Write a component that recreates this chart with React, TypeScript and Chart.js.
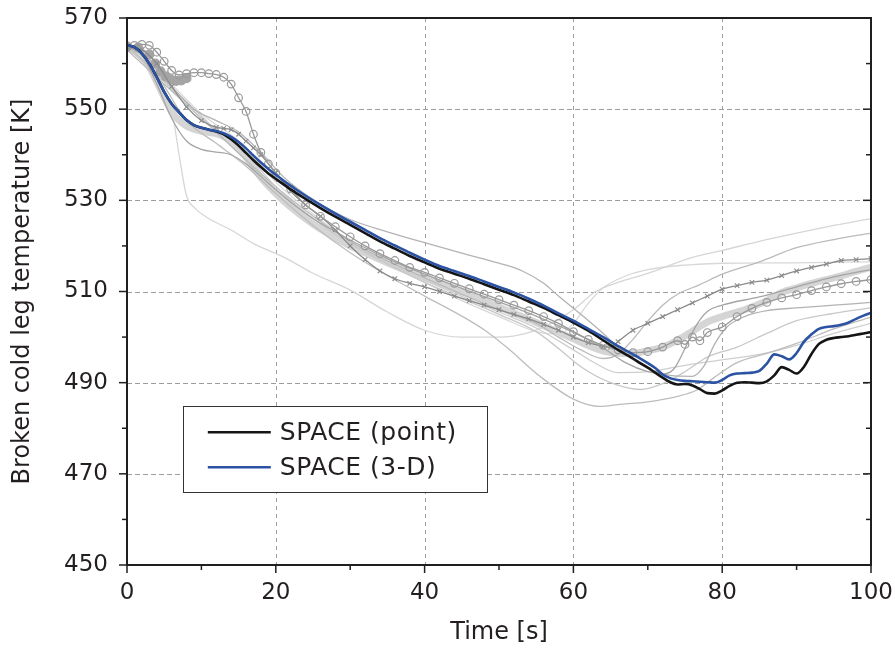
import React, { useEffect, useRef } from "react";
import { Chart, registerables } from "chart.js";

Chart.register(...registerables);

// ---------- ticks ----------
const xTicks = [0, 20, 40, 60, 80, 100];
const xMinorTicks = [10, 30, 50, 70, 90];
const yTicks = [450, 470, 490, 510, 530, 550, 570];
const yMinorTicks = [460, 480, 500, 520, 540, 560];

// ---------- main series (SPACE) ----------
const tMain = [
  0, 1, 2, 3, 4, 5, 6, 7, 8, 9, 10, 11, 12, 13, 14, 15, 16, 17, 18, 19, 20,
  22, 24, 26, 28, 30, 32, 34, 36, 38, 40, 42, 44, 46, 48, 50, 52, 54, 56, 58, 60, 62, 64, 66, 68,
  69, 70, 71, 72, 73, 74, 75, 76, 77, 78, 79, 80, 81, 82, 83, 84, 85, 86, 87, 88, 89, 90,
  91, 92, 93, 94, 95, 96, 97, 98, 99, 100,
];
const spacePoint = [
  564, 563.6, 562.2, 560, 557, 553.8, 551.2, 549.3, 547.6, 546.5, 545.9, 545.5, 545.1, 544.5, 543.4, 542, 540.4, 538.8, 537.3, 535.9, 534.7,
  532.4, 530.3, 528.3, 526.4, 524.6, 522.8, 521, 519.4, 517.8, 516.4, 515, 513.9, 512.8, 511.6, 510.4, 509.2, 507.8, 506.4, 504.8, 503.2, 501.4, 499.3, 497.2, 495.3,
  494.3, 493.3, 492.2, 491.1, 490.1, 489.6, 489.7, 489.4, 488.6, 487.7, 487.6, 488.3, 489.3, 490, 490.1, 490, 489.9, 490.3, 491.6, 493.4, 492.8, 492,
  493.5, 496.3, 498.5, 499.4, 499.8, 500, 500.2, 500.5, 500.8, 501.1,
];
const space3D = [
  564, 563.6, 562.2, 560, 557, 553.8, 551.2, 549.3, 547.6, 546.5, 545.9, 545.5, 545.2, 544.7, 543.9, 542.8, 541.4, 539.8, 538.3, 536.9, 535.6,
  533.2, 531, 529, 527.1, 525.3, 523.5, 521.7, 520.1, 518.5, 517, 515.6, 514.5, 513.4, 512.2, 511, 509.8, 508.4, 506.9, 505.2, 503.6, 501.8, 500, 498, 496.2,
  495.3, 494.3, 493.2, 491.8, 491, 490.6, 490.4, 490.3, 490.2, 490.1, 490, 490.6, 491.6, 492, 492.1, 492.2, 492.6, 494.2, 496.2, 495.8, 495.1, 496.5,
  499, 500.6, 501.8, 502.2, 502.4, 502.7, 503.2, 504, 504.7, 505.3,
];

// ---------- other participants (grey) : [time, temperature] ----------
const grayCircles = [
  [0, 563.5], [1, 564], [2, 564.2], [3, 564], [4, 562.5], [5, 560.5], [6, 558.5], [7, 557.5], [8, 557.8], [9, 558],
  [10, 558], [11, 557.8], [12, 557.6], [13, 557], [14, 555.5], [15, 552.5], [16, 549.5], [17, 544.5], [18, 540.5], [19, 538],
  [20, 536], [22, 532.5], [24, 529], [26, 526.5], [28, 524.2], [30, 522], [32, 520], [34, 518.3], [36, 516.8], [38, 515.3],
  [40, 514.2], [42, 513], [44, 511.8], [46, 510.6], [48, 509.4], [50, 508.2], [52, 507], [54, 505.8], [56, 504.5], [58, 503],
  [60, 501.2], [62, 499.5], [64, 498.2], [66, 497.2], [68, 496.6], [70, 496.8], [72, 497.8], [74, 499.2], [75, 498.4], [76, 500],
  [77, 499.2], [78, 501], [80, 502.2], [82, 504.5], [84, 506.3], [86, 507.6], [88, 508.6], [90, 509.3], [92, 510.2], [94, 511],
  [96, 511.7], [98, 512.2], [100, 512.6],
];
const grayCrosses = [
  [0, 563.5], [2, 563], [4, 560], [6, 555], [8, 550.5], [10, 547.5], [12, 546], [13, 545.8], [14, 545.5], [15, 544.5],
  [16, 543], [17, 541.5], [18, 540], [20, 536], [22, 532], [24, 529], [26, 526.5], [28, 523.5], [30, 520], [32, 517],
  [34, 514.5], [36, 512.8], [38, 511.8], [40, 511], [42, 510], [44, 509], [46, 508], [48, 507], [50, 506], [52, 505],
  [54, 504], [56, 502.8], [58, 501.5], [60, 500], [62, 498.8], [64, 498], [65, 497.8], [66, 499], [68, 501.5], [70, 503],
  [72, 504.5], [74, 506], [76, 507.5], [78, 509], [80, 510.5], [82, 511.3], [84, 512], [86, 512.5], [88, 513.5], [90, 514.5],
  [92, 515.3], [94, 516], [96, 516.8], [98, 517], [100, 517.2],
];
const grayBand = [
  [0, 563.5], [2, 562], [4, 556], [6, 549.5], [8, 546.3], [10, 545.2], [12, 544.6], [14, 543], [16, 539.5], [18, 535],
  [20, 531.5], [22, 528.5], [25, 524.8], [28, 521.8], [30, 520], [35, 516.3], [40, 513], [45, 510], [50, 506.6], [55, 503.2],
  [60, 499.6], [63, 497.5], [65, 496.6], [68, 496.4], [70, 497], [72, 497.8], [74, 499.3], [76, 501.3], [78, 503.3], [80, 504.5],
  [83, 506], [86, 508], [88, 509.8], [90, 510.8], [93, 512.2], [95, 513], [98, 514.4], [100, 515.3],
];
const grayA = [
  [0, 564], [2, 562], [4, 555.5], [6, 548], [8, 543], [10, 541.2], [12, 540.6], [14, 540], [16, 538], [18, 535.2],
  [20, 532.3], [22, 529.6], [25, 526], [30, 521.3], [35, 517.2], [40, 513.8], [45, 510.7], [50, 507.7], [55, 504.6], [60, 501],
  [64, 497.6], [67, 494.4], [70, 492.4], [72, 491.9], [73.5, 493], [75, 497.5], [76.5, 502.5], [78, 505.6], [80, 507], [85, 508.8],
  [90, 511], [95, 513.2], [100, 514.8],
];
const grayB = [
  [0, 564], [3, 561], [6, 555], [9, 550], [12, 547.5], [15, 545], [18, 540.5], [21, 535.2], [25, 530.2], [30, 525.8],
  [35, 523.1], [40, 520.7], [45, 518.4], [50, 516.2], [53, 514.6], [56, 511.8], [58, 509], [61, 505], [64, 500.8], [67, 496.2],
  [70, 493.2], [73, 491.6], [76, 491.4], [77.5, 493.5], [79, 498.5], [80.5, 502], [83, 504.5], [86, 505.8], [90, 506.4], [95, 507],
  [100, 507.6],
];
const grayC = [
  [0, 563], [2, 561], [4, 557], [5, 554], [6, 550], [7, 540], [8, 531], [9, 528.5], [11, 526], [14, 523.5],
  [17, 520.5], [21, 517.6], [25, 514], [30, 510.3], [35, 505.5], [40, 501.5], [45, 500], [50, 500], [54, 501], [57, 503],
  [60, 506], [63, 510], [66, 512], [70, 514], [76, 517.5], [80, 519], [85, 521], [90, 522.8], [95, 524.5], [100, 526],
];
const grayD = [
  [0, 564], [4, 557.5], [8, 547.5], [12, 542.5], [16, 537.5], [20, 531.5], [25, 524.5], [30, 518.5], [35, 513.5], [40, 509],
  [45, 504.6], [48, 501.6], [51, 497.8], [55.5, 491.4], [60, 486.4], [63.6, 484.8], [66, 485.2], [70, 485.8], [74, 487], [76.6, 488.4],
  [78.8, 491], [82, 494.4], [86, 496.4], [90, 498.6], [95, 501.8], [100, 504.4],
];
const grayE = [
  [0, 563.5], [5, 556], [10, 548], [15, 542], [20, 533], [25, 526], [30, 520.5], [35, 516], [40, 512], [45, 508.5],
  [50, 505], [55, 501.2], [58, 497.5], [61, 493.5], [65, 490], [69, 488.5], [72, 489.8], [75, 492.4], [78, 495.6], [82, 497.8],
  [86, 500.8], [90, 503.6], [95, 505.2], [100, 506.4],
];
const grayF = [
  [0, 564], [5, 557], [10, 549], [15, 543], [20, 534], [25, 527], [30, 521], [35, 516], [40, 512], [45, 508],
  [50, 504.5], [55, 501.2], [58, 500.6], [60, 503], [62, 507.4], [64, 510.8], [67, 513.4], [70, 514.8], [75, 515.8], [80, 516.2],
  [90, 516.3], [100, 516.5],
];
const grayG = [
  [0, 563], [10, 548], [20, 533], [30, 521], [40, 513], [50, 506], [55, 503], [58, 500], [61, 497.2], [64, 495.3],
  [66, 496.2], [68, 499.5], [70, 503.5], [72, 507], [74, 509.4], [77, 511.5], [80, 513.8], [85, 516.5], [90, 519.6], [95, 521.4],
  [100, 522.8],
];
const grayH = [
  [0, 564], [10, 548.5], [20, 532.5], [30, 520.5], [40, 512.5], [50, 505.5], [55, 502], [60, 497.2], [63, 494.2], [66, 492.2],
  [70, 492.4], [75, 493.8], [80, 495], [85, 496.2], [90, 498.2], [95, 500.8], [100, 503],
];
const grayDots = [
  [0, 563.8], [1.5, 563.5], [3, 562], [3.8, 560], [4.5, 558.3], [5.2, 557.2], [5.9, 556.5], [6.6, 556.2], [7.3, 556.3], [8, 556.8],
];

const FONT = "'DejaVu Sans', 'Liberation Sans', Arial, sans-serif";
const TEXT = "#231f20";

const toXY = (arr: number[][]) => arr.map(([x, y]) => ({ x, y }));

const frameGridLegend = {
  id: "frameGridLegend",
  beforeDatasetsDraw(chart: any) {
    const { ctx, chartArea: a, scales } = chart;
    const xs = scales.x, ys = scales.y;
    ctx.save();
    ctx.strokeStyle = "#9d9d9d";
    ctx.lineWidth = 1;
    ctx.setLineDash([4, 4]);
    xTicks.forEach((v) => {
      const px = Math.round(xs.getPixelForValue(v)) + 0.5;
      if (px <= a.left + 2 || px >= a.right - 2) return;
      ctx.beginPath();
      ctx.moveTo(px, a.top);
      ctx.lineTo(px, a.bottom);
      ctx.stroke();
    });
    ctx.setLineDash([5, 3]);
    yTicks.forEach((v) => {
      const py = Math.round(ys.getPixelForValue(v)) + 0.5;
      if (py <= a.top + 2 || py >= a.bottom - 2) return;
      ctx.beginPath();
      ctx.moveTo(a.left, py);
      ctx.lineTo(a.right, py);
      ctx.stroke();
    });
    ctx.restore();
  },
  afterDatasetsDraw(chart: any) {
    const { ctx, chartArea: a, scales } = chart;
    const xs = scales.x, ys = scales.y;
    ctx.save();
    ctx.setLineDash([]);
    ctx.strokeStyle = "#1f1f1f";
    ctx.lineWidth = 2;
    ctx.strokeRect(a.left, a.top, a.right - a.left, a.bottom - a.top);
    ctx.lineWidth = 1.5;
    const tick = (x1: number, y1: number, x2: number, y2: number) => {
      ctx.beginPath();
      ctx.moveTo(x1, y1);
      ctx.lineTo(x2, y2);
      ctx.stroke();
    };
    xTicks.forEach((v) => { const px = xs.getPixelForValue(v); tick(px, a.bottom, px, a.bottom + 8); });
    xMinorTicks.forEach((v) => { const px = xs.getPixelForValue(v); tick(px, a.bottom, px, a.bottom + 5); });
    yTicks.forEach((v) => {
      const py = ys.getPixelForValue(v);
      tick(a.left - 8, py, a.left, py);
      tick(a.right - 8, py, a.right, py);
    });
    yMinorTicks.forEach((v) => {
      const py = ys.getPixelForValue(v);
      tick(a.left - 5, py, a.left, py);
      tick(a.right - 5, py, a.right, py);
    });

    // legend box inside the plot
    const lx1 = xs.getPixelForValue(7.5), lx2 = xs.getPixelForValue(48.4);
    const ly1 = ys.getPixelForValue(484.8), ly2 = ys.getPixelForValue(465.9);
    ctx.fillStyle = "#ffffff";
    ctx.fillRect(lx1, ly1, lx2 - lx1, ly2 - ly1);
    ctx.strokeStyle = "#333333";
    ctx.lineWidth = 1;
    ctx.strokeRect(Math.round(lx1) + 0.5, Math.round(ly1) + 0.5, Math.round(lx2 - lx1), Math.round(ly2 - ly1));
    const items = [chart.data.datasets[1], chart.data.datasets[0]];
    ctx.font = `25px ${FONT}`;
    try { (ctx as any).letterSpacing = "0.5px"; } catch (e) { /* ignore */ }
    ctx.textBaseline = "middle";
    ctx.textAlign = "left";
    items.forEach((ds: any, i: number) => {
      const cy = ly1 + 26 + i * 35;
      ctx.strokeStyle = ds.borderColor;
      ctx.lineWidth = 2.5;
      tick(lx1 + 25, cy, lx1 + 88, cy);
      ctx.fillStyle = TEXT;
      ctx.fillText(ds.label, lx1 + 97, cy + 1);
    });
    ctx.restore();
  },
};

export default function App() {
  const ref = useRef<HTMLCanvasElement | null>(null);

  useEffect(() => {
    if (!ref.current) return;
    const gray = (label: string, data: number[][], color: string, extra: any = {}) => ({
      label,
      data: toXY(data),
      borderColor: color,
      backgroundColor: "rgba(0,0,0,0)",
      borderWidth: 1.3,
      pointRadius: 0,
      ...extra,
    });
    const chart = new Chart(ref.current, {
      type: "line",
      data: {
        datasets: [
          {
            label: "SPACE (3-D)",
            data: tMain.map((t, i) => ({ x: t, y: space3D[i] })),
            borderColor: "#2b52a3",
            borderWidth: 2.6,
            pointRadius: 0,
          },
          {
            label: "SPACE (point)",
            data: tMain.map((t, i) => ({ x: t, y: spacePoint[i] })),
            borderColor: "#151515",
            borderWidth: 2.6,
            pointRadius: 0,
          },
          gray("circles", grayCircles, "#989898", {
            pointRadius: 3.8, pointStyle: "circle", pointBorderColor: "#9a9a9a",
            pointBackgroundColor: "rgba(255,255,255,0)", pointBorderWidth: 1.2,
          }),
          gray("crosses", grayCrosses, "#8a8a8a", {
            pointRadius: 3.2, pointStyle: "crossRot", pointBorderColor: "#8a8a8a", pointBorderWidth: 1.1,
          }),
          gray("dots", grayDots, "#acacac", {
            pointRadius: 4.4, pointStyle: "circle", pointBackgroundColor: "#a4a4a4", pointBorderColor: "#a4a4a4",
          }),
          gray("A", grayA, "#a4a4a4"),
          gray("B", grayB, "#b3b3b3"),
          gray("D", grayD, "#bdbdbd"),
          gray("E", grayE, "#c8c8c8"),
          gray("G", grayG, "#bababa"),
          gray("H", grayH, "#cecece"),
          gray("C", grayC, "#d6d6d6"),
          gray("F", grayF, "#d8d8d8"),
          gray("band", grayBand, "#d5d5d5", { borderWidth: 7 }),
        ],
      },
      options: {
        animation: false,
        responsive: false,
        devicePixelRatio: 1,
        layout: { padding: { top: 18, right: 24, left: 0, bottom: 0 } },
        plugins: { legend: { display: false }, tooltip: { enabled: false } },
        elements: {
          line: { cubicInterpolationMode: "monotone", borderCapStyle: "round", borderJoinStyle: "round" },
          point: { radius: 0, hitRadius: 0 },
        },
        scales: {
          x: {
            type: "linear",
            min: 0,
            max: 100,
            afterBuildTicks: (s: any) => { s.ticks = xTicks.map((v) => ({ value: v })); },
            afterFit: (s: any) => {
              s.height = 88;
              s.paddingLeft = 0; s.paddingRight = 0; s.paddingTop = 0; s.paddingBottom = 0;
            },
            grid: { display: false, drawTicks: false },
            border: { display: false },
            ticks: { padding: 14, maxRotation: 0, color: TEXT, font: { family: FONT, size: 23 } },
            title: { display: true, text: "Time [s]", color: TEXT, font: { family: FONT, size: 24 }, padding: { top: 0, bottom: 6 } },
          },
          y: {
            type: "linear",
            min: 450,
            max: 570,
            afterBuildTicks: (s: any) => { s.ticks = yTicks.map((v) => ({ value: v })); },
            afterFit: (s: any) => {
              s.width = 127;
              s.paddingLeft = 0; s.paddingRight = 0; s.paddingTop = 0; s.paddingBottom = 0;
            },
            grid: { display: false, drawTicks: false },
            border: { display: false },
            ticks: { padding: 19, color: TEXT, font: { family: FONT, size: 23 } },
            title: {
              display: true, text: "Broken cold leg temperature [K]", color: TEXT,
              font: { family: FONT, size: 24 }, padding: { top: 8, bottom: 0 },
            },
          },
        },
      } as any,
      plugins: [frameGridLegend],
    });
    return () => chart.destroy();
  }, []);

  return (
    <div style={{ position: "fixed", left: 0, top: 0, width: 895, height: 653, background: "#fff" }}>
      <canvas ref={ref} width={895} height={653} style={{ width: 895, height: 653, display: "block" }} />
    </div>
  );
}
